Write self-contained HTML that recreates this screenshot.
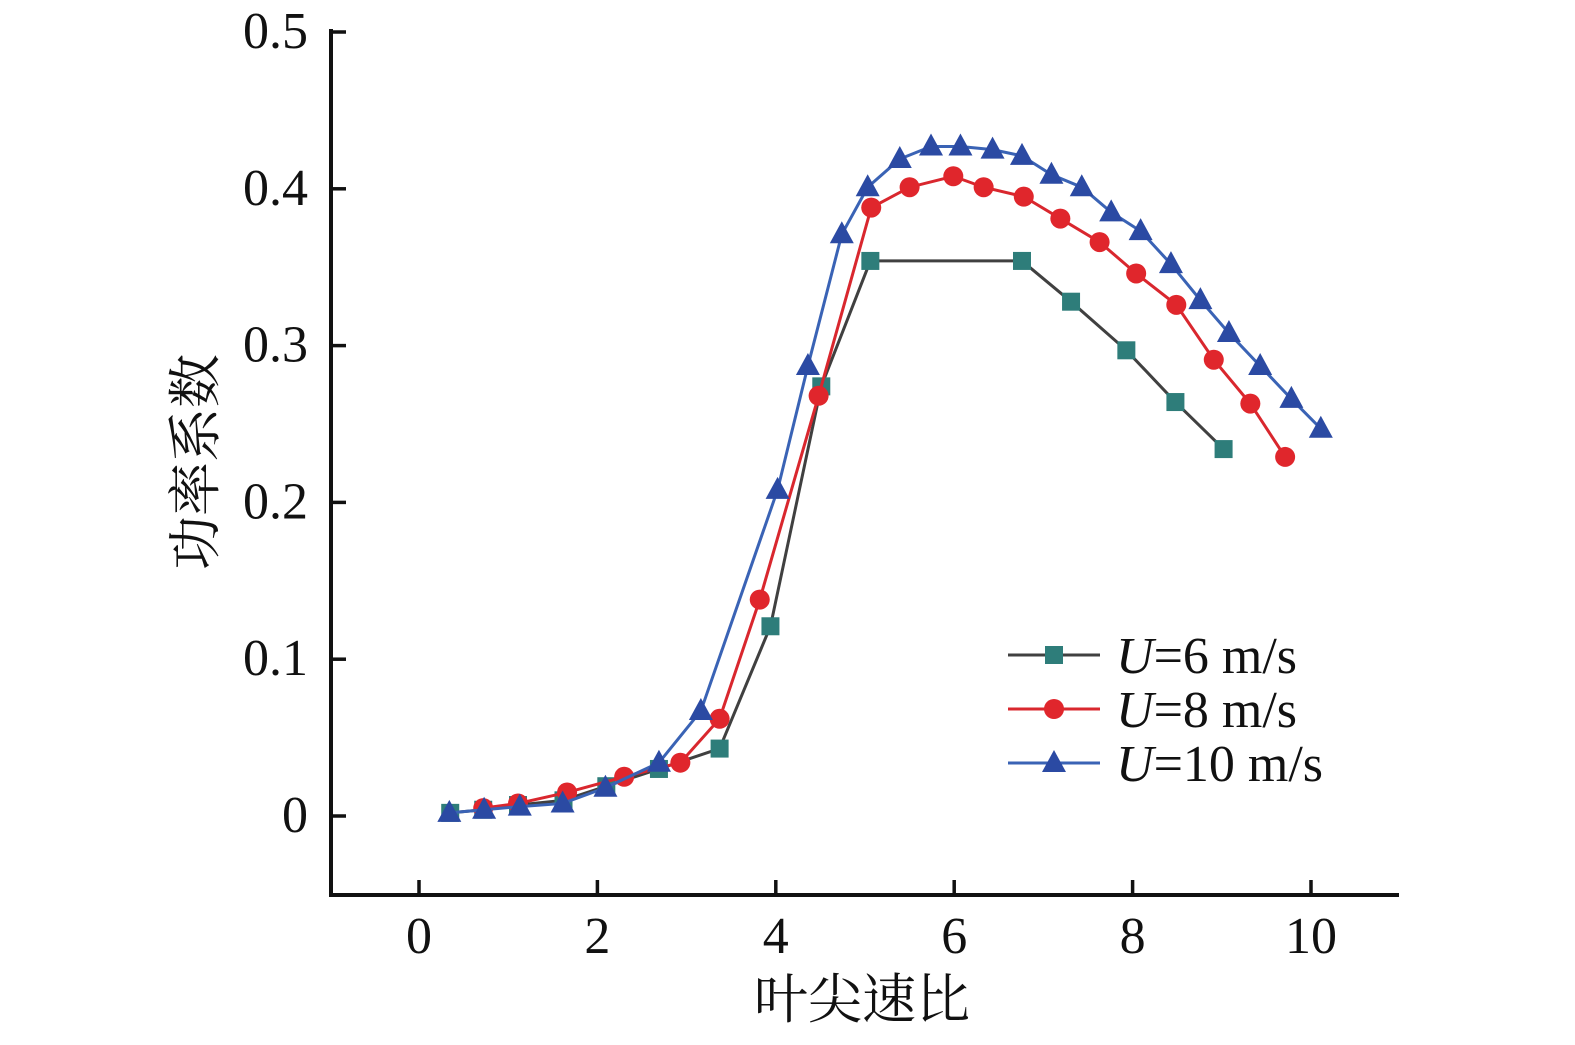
<!DOCTYPE html>
<html><head><meta charset="utf-8"><style>
html,body{margin:0;padding:0;background:#fff;}
svg text{font-family:"Liberation Serif","Noto Serif CJK SC",serif;fill:#111;}
</style></head><body>
<svg id="chart" width="1575" height="1040" viewBox="0 0 1575 1040" xmlns="http://www.w3.org/2000/svg">
<g id="axes"></g>
<g id="series"></g>
<g id="legend"></g>
</svg>
<script>
const xTicks=[0,2,4,6,8,10];
const yTicks=[0,0.1,0.2,0.3,0.4,0.5];
const yTickLabels=["0","0.1","0.2","0.3","0.4","0.5"];
const x6=[0.35,0.72,1.11,1.62,2.1,2.69,3.37,3.94,4.51,5.06,6.76,7.31,7.93,8.48,9.02];
const y6=[0.002,0.004,0.007,0.010,0.019,0.030,0.043,0.121,0.274,0.354,0.354,0.328,0.297,0.264,0.234];
const x8=[0.72,1.11,1.66,2.3,2.93,3.37,3.82,4.48,5.07,5.5,5.99,6.33,6.78,7.19,7.63,8.04,8.49,8.91,9.32,9.71];
const y8=[0.005,0.008,0.015,0.025,0.034,0.062,0.138,0.268,0.388,0.401,0.408,0.401,0.395,0.381,0.366,0.346,0.326,0.291,0.263,0.229];
const x10=[0.34,0.73,1.13,1.61,2.09,2.69,3.16,4.02,4.36,4.74,5.03,5.39,5.74,6.07,6.43,6.76,7.09,7.43,7.76,8.09,8.43,8.76,9.08,9.43,9.78,10.11];
const y10=[0.002,0.004,0.006,0.008,0.018,0.034,0.067,0.208,0.287,0.371,0.401,0.419,0.427,0.427,0.425,0.421,0.409,0.401,0.385,0.373,0.352,0.329,0.308,0.287,0.266,0.247];
const seriesNames=["U=6 m/s","U=8 m/s","U=10 m/s"];

const NS="http://www.w3.org/2000/svg";
const X=v=>419+v*89.2;
const Y=v=>816-v*1568;
function mk(tag,attrs,parent){const e=document.createElementNS(NS,tag);for(const k in attrs)e.setAttribute(k,attrs[k]);parent.appendChild(e);return e;}
const axes=document.getElementById('axes');
let e;
e=mk('line',{x1:331,y1:29,x2:331,y2:897,stroke:'#111','stroke-width':4},axes);


e=mk('line',{x1:329,y1:895,x2:1399,y2:895,stroke:'#111','stroke-width':4},axes);


xTicks.forEach(t=>{
 e=mk('line',{x1:X(t),y1:895,x2:X(t),y2:880,stroke:'#111','stroke-width':3.5},axes);
 
 
 e=mk('text',{x:X(t),y:953,'text-anchor':'middle','font-size':52},axes);e.textContent=String(t);
 
 
});
yTicks.forEach((t,i)=>{
 e=mk('line',{x1:331,y1:Y(t),x2:346,y2:Y(t),stroke:'#111','stroke-width':3.5},axes);
 
 
 e=mk('text',{x:308,y:Y(t)+16,'text-anchor':'end','font-size':52},axes);e.textContent=yTickLabels[i];
 
 
});
e=mk('text',{x:862,y:1018,'text-anchor':'middle','font-size':54},axes);e.textContent='叶尖速比';


e=mk('text',{x:0,y:0,'text-anchor':'middle','font-size':54,transform:'translate(214,462) rotate(-90)'},axes);e.textContent='功率系数';



const sg=document.getElementById('series');
function marker(type,cx,cy,fill,parent){
 if(type==='sq') return mk('rect',{x:cx-9,y:cy-9,width:18,height:18,fill:fill},parent);
 if(type==='ci') return mk('circle',{cx:cx,cy:cy,r:10,fill:fill},parent);
 return mk('polygon',{points:`${cx},${cy-13} ${cx-12},${cy+9} ${cx+12},${cy+9}`,fill:fill},parent);
}
const defs=[[x6,y6,'#404040','#2e7d7a','sq','series-u6'],[x8,y8,'#d9272e','#e0262c','ci','series-u8'],[x10,y10,'#3a63b5','#2b4aa3','tr','series-u10']];
defs.forEach(([xs,ys,lc,mc,mt,name])=>{
 const g=mk('g',{},sg);
 
 
 const pl=mk('polyline',{points:xs.map((v,i)=>X(v)+','+Y(ys[i])).join(' '),fill:'none',stroke:lc,'stroke-width':3},g);
 
 
 xs.forEach((v,i)=>{const m=marker(mt,X(v),Y(ys[i]),mc,g);
  
  });
});
const lg=document.getElementById('legend');
defs.forEach(([xs,ys,lc,mc,mt,name],i)=>{
 const cy=655+i*54;
 const g=mk('g',{},lg);
 
 
 mk('line',{x1:1008,y1:cy,x2:1100,y2:cy,stroke:lc,'stroke-width':3},g);
 marker(mt,1054,cy,mc,g);
 const t=mk('text',{x:1116,y:cy+18,'font-size':52},g);
 const p=seriesNames[i].split('=');
 const it=mk('tspan',{'font-style':'italic'},t);it.textContent=p[0];
 const rest=mk('tspan',{},t);rest.textContent='='+p[1];
});
</script>
</body></html>
